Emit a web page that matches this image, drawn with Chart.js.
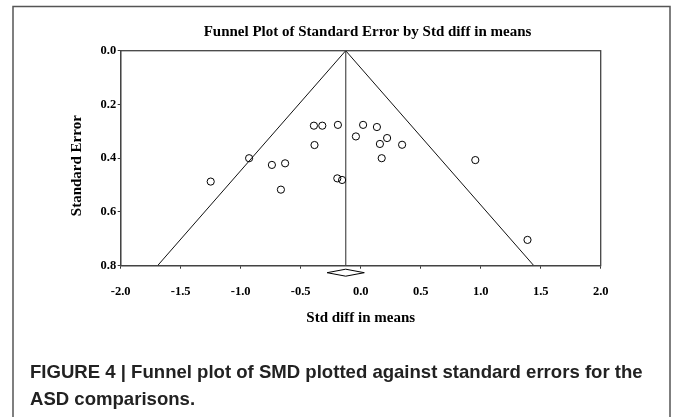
<!DOCTYPE html>
<html>
<head>
<meta charset="utf-8">
<script src="https://cdn.jsdelivr.net/npm/chart.js"></script>
<style>
  html, body { margin: 0; padding: 0; background: #fff; }
  canvas { display: block; }
</style>
</head>
<body>
<canvas id="funnelChart" width="675" height="417"></canvas>
<script>
// studies: std diff in means (x) vs standard error (y)
const studyX = [-1.25, -0.93, -0.74, -0.63, -0.665, -0.39, -0.32, -0.385, -0.19, -0.195,
                -0.155, -0.04, 0.02, 0.135, 0.16, 0.22, 0.175, 0.345, 0.955, 1.39];
const studyY = [0.487, 0.400, 0.425, 0.419, 0.517, 0.279, 0.279, 0.351, 0.276, 0.475,
                0.481, 0.319, 0.276, 0.284, 0.347, 0.325, 0.400, 0.350, 0.407, 0.704];

// funnel (pseudo 95% limits) and pooled mean
const funnelX = [-1.693, -0.125, 1.443];
const funnelY = [0.8, 0.0, 0.8];
const meanX = [-0.125, -0.125];
const meanY = [0.0, 0.8];

// pooled estimate diamond, drawn just under the axis
const diamondX = [-0.28, -0.125, 0.03, -0.125, -0.28];
const diamondY = [0.826, 0.813, 0.826, 0.839, 0.826];

const xTicks = [-2.0, -1.5, -1.0, -0.5, 0.0, 0.5, 1.0, 1.5, 2.0];
const yTicks = [0.0, 0.2, 0.4, 0.6, 0.8];

const chartTitle = 'Funnel Plot of Standard Error by Std diff in means';
const captionLines = [
    'FIGURE 4 | Funnel plot of SMD plotted against standard errors for the',
    'ASD comparisons.'
];

function toPoints(xs, ys) {
    return xs.map((x, i) => ({ x: x, y: ys[i] }));
}

const serif = "'Liberation Serif', 'Times New Roman', serif";

// frame, plot box, title and caption
const decorations = {
    id: 'decorations',
    afterDraw(chart) {
        const ctx = chart.ctx;
        const a = chart.chartArea;
        ctx.save();

        // outer figure frame
        ctx.strokeStyle = '#555';
        ctx.lineWidth = 1.5;
        ctx.strokeRect(13, 6.5, 657, 430);

        // plot box
        ctx.strokeStyle = '#444';
        ctx.lineWidth = 1.3;
        ctx.strokeRect(a.left, a.top, a.right - a.left, a.bottom - a.top);

        // chart title
        ctx.fillStyle = '#000';
        ctx.font = 'bold 15px ' + serif;
        ctx.textAlign = 'center';
        ctx.textBaseline = 'alphabetic';
        ctx.fillText(chartTitle, 367.5, 36);

        // caption
        ctx.fillStyle = '#222';
        ctx.textAlign = 'left';
        ctx.font = "bold 16px 'Liberation Sans', Arial, sans-serif";
        const w = ctx.measureText(captionLines[0]).width;
        const size = 16 * 613 / w;
        ctx.font = 'bold ' + size.toFixed(2) + "px 'Liberation Sans', Arial, sans-serif";
        ctx.fillText(captionLines[0], 30, 378);
        ctx.fillText(captionLines[1], 30, 405);
        ctx.restore();
    }
};

const ctx = document.getElementById('funnelChart').getContext('2d');

new Chart(ctx, {
    type: 'scatter',
    data: {
        datasets: [
            {
                label: 'Studies',
                data: toPoints(studyX, studyY),
                pointStyle: 'circle',
                pointRadius: 3.6,
                borderColor: '#000',
                borderWidth: 1,
                backgroundColor: 'rgba(255,255,255,0)',
                showLine: false
            },
            {
                label: 'Funnel',
                data: toPoints(funnelX, funnelY),
                showLine: true,
                pointRadius: 0,
                borderColor: '#111',
                borderWidth: 1,
                tension: 0
            },
            {
                label: 'Mean',
                data: toPoints(meanX, meanY),
                showLine: true,
                pointRadius: 0,
                borderColor: '#666',
                borderWidth: 1.4,
                tension: 0
            },
            {
                label: 'Pooled',
                data: toPoints(diamondX, diamondY),
                showLine: true,
                pointRadius: 0,
                borderColor: '#000',
                borderWidth: 1,
                tension: 0,
                clip: false
            }
        ]
    },
    options: {
        responsive: false,
        animation: false,
        events: [],
        layout: {
            padding: { left: 0, top: 50.7, right: 74.3, bottom: 81.3 }
        },
        scales: {
            x: {
                type: 'linear',
                min: -2,
                max: 2,
                afterBuildTicks: (scale) => {
                    scale.ticks = xTicks.map(v => ({ value: v }));
                },
                afterFit: (scale) => { scale.height = 70; },
                ticks: {
                    callback: (v) => Number(v).toFixed(1),
                    color: '#000',
                    padding: 15.5,
                    maxRotation: 0,
                    font: { family: serif, size: 12.5, weight: 'bold', lineHeight: 1.2 }
                },
                grid: {
                    drawOnChartArea: false,
                    drawTicks: true,
                    tickLength: 3,
                    color: '#333'
                },
                border: { display: true, color: '#444', width: 1.3 },
                title: {
                    display: true,
                    text: 'Std diff in means',
                    color: '#000',
                    padding: { top: 0, bottom: 8.4 },
                    font: { family: serif, size: 15, weight: 'bold', lineHeight: 1.2 }
                }
            },
            y: {
                type: 'linear',
                reverse: true,
                min: 0,
                max: 0.8,
                afterBuildTicks: (scale) => {
                    scale.ticks = yTicks.map(v => ({ value: v }));
                },
                afterFit: (scale) => { scale.width = 120.7; },
                ticks: {
                    callback: (v) => Number(v).toFixed(1),
                    color: '#000',
                    padding: 1.5,
                    font: { family: serif, size: 12.5, weight: 'bold', lineHeight: 1.2 }
                },
                grid: {
                    drawOnChartArea: false,
                    drawTicks: true,
                    tickLength: 3,
                    color: '#333'
                },
                border: { display: true, color: '#444', width: 1.3 },
                title: {
                    display: true,
                    text: 'Standard Error\u00a0\u00a0\u00a0\u00a0',
                    color: '#000',
                    padding: { top: 68, bottom: 0 },
                    font: { family: serif, size: 15, weight: 'bold', lineHeight: 1.2 }
                }
            }
        },
        plugins: {
            legend: { display: false },
            title: { display: false },
            tooltip: { enabled: false }
        }
    },
    plugins: [decorations]
});
</script>
</body>
</html>
